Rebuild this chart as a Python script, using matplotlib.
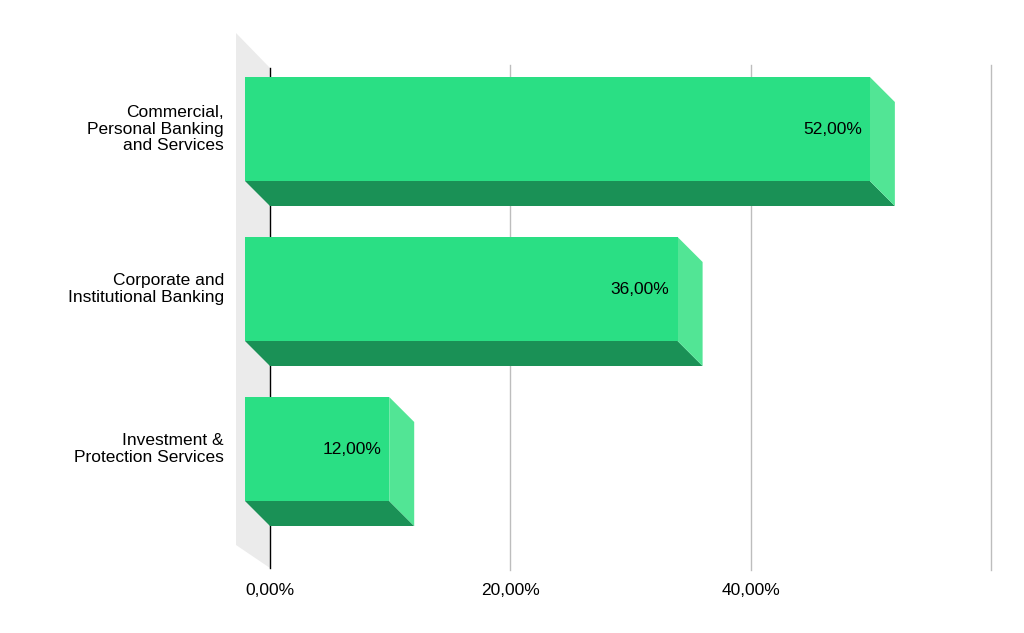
import matplotlib
matplotlib.use("Agg")
import matplotlib.pyplot as plt
from matplotlib.patches import Polygon

categories = ["Commercial,\nPersonal Banking\nand Services",
              "Corporate and\nInstitutional Banking",
              "Investment &\nProtection Services"]
values = [52.0, 36.0, 12.0]
tick_values = [0, 20, 40, 60]
tick_labels = ["0,00%", "20,00%", "40,00%", ""]

W, H = 1024, 633
fig = plt.figure(figsize=(W/100, H/100), dpi=100)
# axes spans pixel x 270..991 -> 0..60 ; y in pixel units
x0, x1 = 270, 991
ytop, ybot = 20, 580
ax = fig.add_axes([x0/W, 1-ybot/H, (x1-x0)/W, (ybot-ytop)/H])
ax.set_xlim(0, 60)
ax.set_ylim(ybot, ytop)
ax.axis("off")
ax.set_clip_on(False)

pp = 60/(x1-x0)  # percent per pixel
d = 25  # depth in pixels
dx = d*pp

front_c, side_c, bot_c = "#2ADF84", "#52E595", "#1A9156"
font = "Liberation Sans"

# wall
wall = Polygon([(-34*pp, 33), (0, 68), (0, 568), (-34*pp, 545)], closed=True,
               facecolor="#EBEBEB", edgecolor="none", zorder=0, clip_on=False)
ax.add_patch(wall)
for t in tick_values[1:]:
    ax.plot([t, t], [65, 570], color="#BDBDBD", lw=1, zorder=0.5, clip_on=False)
ax.plot([0, 0], [68, 568], color="black", lw=1, zorder=0.6, clip_on=False)
for t, lab in zip(tick_values, tick_labels):
    ax.text(t, 590, lab, ha="center", va="center", fontsize=12.5, family=font)

bh = 104
for i, (cat, v) in enumerate(zip(categories, values)):
    cy = 154 + 160*i  # back center
    bt, bb = cy - bh/2, cy + bh/2
    ft, fb = bt - d, bb - d
    fl, fr = -dx, v - dx
    ax.add_patch(Polygon([(fl, fb), (fr, fb), (v, bb), (0, bb)], closed=True,
                         facecolor=bot_c, edgecolor="none", zorder=2, clip_on=False))
    ax.add_patch(Polygon([(fr, ft), (v, bt), (v, bb), (fr, fb)], closed=True,
                         facecolor=side_c, edgecolor="none", zorder=2, clip_on=False))
    ax.add_patch(Polygon([(fl, ft), (fr, ft), (fr, fb), (fl, fb)], closed=True,
                         facecolor=front_c, edgecolor="none", zorder=3, clip_on=False))
    ax.text(fr - 8*pp, (ft+fb)/2, f"{v:.2f}%".replace(".", ","), ha="right",
            va="center", fontsize=12.5, family=font, zorder=4)
    ax.text(-46*pp, (ft+fb)/2, cat, ha="right", va="center", fontsize=12.5,
            family=font, linespacing=1.1)

fig.savefig("out.png", dpi=100, facecolor="white")
